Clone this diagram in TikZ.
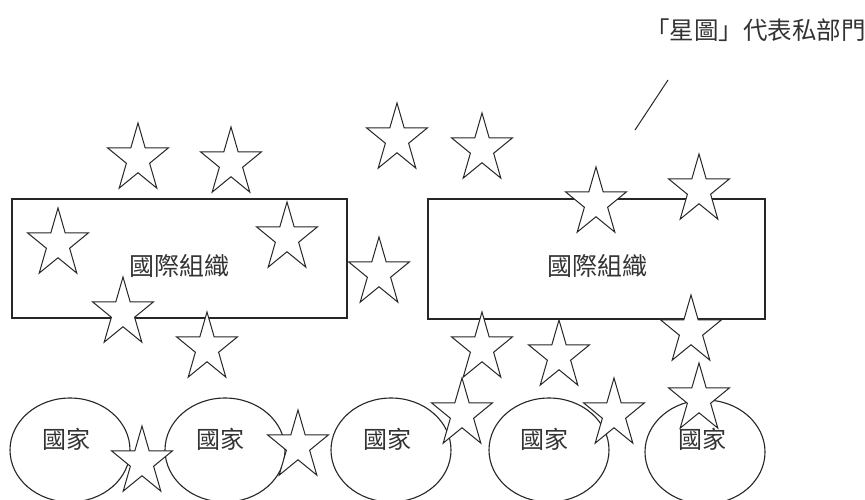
\documentclass[tikz,border=0pt]{standalone}
\usepackage{fontspec}
\newfontfamily\cjk{Noto Sans CJK TC}
\usetikzlibrary{shapes.geometric}
\tikzset{
  x=1pt, y=-1pt,
  ink/.style={draw=black!85, line width=1.1pt},
  orgbox/.style={ink, rectangle, inner sep=0pt},
  nation/.style={ink, ellipse, inner sep=0pt, minimum width=120pt, minimum height=104pt},
  lbl/.style={inner sep=0pt, text=black!80, font=\cjk\fontsize{24}{28}\selectfont},
  starpic/.pic={
    \draw[ink, line width=1pt, fill=white, line join=miter]
      (0,-36) -- (-7.18,-11.12) -- (-30.43,-11.12) -- (-11.62,4.25) -- (-18.81,29.12)
      -- (0,13.75) -- (18.81,29.12) -- (11.62,4.25) -- (30.43,-11.12) -- (7.18,-11.12) -- cycle;
  }
}
\begin{document}
\begin{tikzpicture}
\useasboundingbox (0,0) rectangle (865,499);
\clip (0,0) rectangle (865,499);
\fill[white] (0,0) rectangle (865,499);

% organisations
\node[orgbox, minimum width=335pt, minimum height=119pt] (o1) at (179.5,258.5) {};
\node[orgbox, minimum width=337pt, minimum height=120pt] (o2) at (596.5,259) {};
\node[lbl, font=\cjk\fontsize{25}{28}\selectfont] (t1) at (179,266) {國際組織};
\node[lbl, font=\cjk\fontsize{25}{28}\selectfont] (t2) at (597,266) {國際組織};

% nations
\node[nation] (e1) at (70,450) {};
\node[nation] (e2) at (225,450) {};
\node[nation] (e3) at (391,450) {};
\node[nation] (e4) at (549,450) {};
\node[nation] (e5) at (705,452) {};
\node[lbl] (n1) at (66,439) {國家};
\node[lbl] (n2) at (220,439) {國家};
\node[lbl] (n3) at (387,439) {國家};
\node[lbl] (n4) at (544,439) {國家};
\node[lbl] (n5) at (702,439) {國家};

% stars (private sector)
\foreach \sx/\sy in {138/159, 231/163, 397/139, 482/149, 58/244, 287/238, 379/273,
  123/313, 207/348, 596/203, 699/190, 482/348, 559/356, 691/331, 462/414,
  614/414, 699/399, 142/462, 298/446}
  \pic at (\sx,\sy) {starpic};

% legend
\node[lbl, font=\cjk\fontsize{24.5}{28}\selectfont, anchor=east] (leg) at (866,30) {「星圖」代表私部門};
\coordinate (l1) at (668,80);
\coordinate (l2) at (635,130);
\draw[ink, line width=1pt] (l1) -- (l2);
\end{tikzpicture}
\end{document}
